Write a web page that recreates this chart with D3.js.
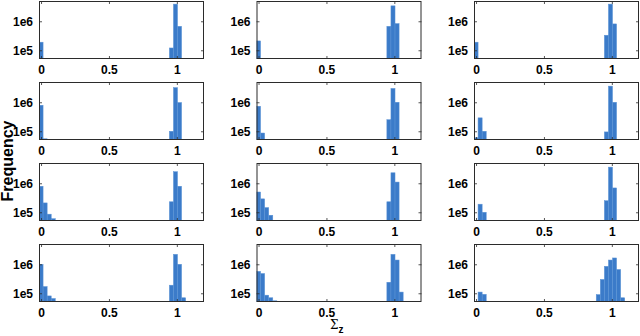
<!DOCTYPE html>
<html>
<head>
<meta charset="utf-8">
<script src="https://cdn.jsdelivr.net/npm/d3@7"></script>
<style>
  html, body { margin: 0; padding: 0; background: #fff; }
  svg { display: block; font-family: "Liberation Sans", Arial, sans-serif; }
</style>
</head>
<body>
<div id="chart"></div>
<script>
// histogram bin centres (bin width 0.03)
const binCenters = [0, 0.03, 0.06, 0.09, 0.12, 0.90, 0.93, 0.96, 0.99, 1.02, 1.05, 1.08];
const binWidth = 0.03;

// counts per panel, row by row, aligned with binCenters (0 = empty bin)
const panel1  = [1.9e5, 0, 0, 0, 0, 0, 0, 1.2e5, 3.9e6, 6.7e5, 0, 0];
const panel2  = [2.1e5, 0, 0, 0, 0, 0, 0, 6.7e5, 3.4e6, 8.3e5, 0, 0];
const panel3  = [1.9e5, 0, 0, 0, 0, 0, 0, 3.3e5, 3.9e6, 8.1e5, 0, 0];
const panel4  = [7.9e5, 5.5e4, 0, 0, 0, 0, 0, 1.0e5, 3.2e6, 9.8e5, 0, 0];
const panel5  = [7.3e5, 8.7e4, 0, 0, 0, 0, 0, 2.5e5, 3.0e6, 1.0e6, 0, 0];
const panel6  = [6.0e4, 2.9e5, 1.0e5, 0, 0, 0, 0, 9.5e4, 3.6e6, 1.0e6, 0, 0];
const panel7  = [7.9e5, 2.1e5, 8.6e4, 6.0e4, 5.2e4, 0, 0, 2.3e5, 2.5e6, 7.9e5, 0, 0];
const panel8  = [5.0e5, 2.9e5, 1.45e5, 7.9e4, 5.3e4, 0, 0, 2.3e5, 2.3e6, 1.1e6, 5.2e4, 0];
const panel9  = [0, 1.9e5, 1.0e5, 0, 0, 0, 0, 2.5e5, 3.6e6, 6.9e5, 0, 0];
const panel10 = [1.0e6, 1.7e5, 8.1e4, 6.6e4, 5.3e4, 0, 0, 1.9e5, 2.2e6, 1.0e6, 7.0e4, 0];
const panel11 = [5.7e5, 4.8e5, 8.6e4, 7.0e4, 5.5e4, 0, 0, 2.4e5, 2.2e6, 1.4e6, 1.1e5, 0];
const panel12 = [0, 1.1e5, 9.2e4, 0, 0, 9.0e4, 3.0e5, 8.5e5, 1.4e6, 1.65e6, 6.6e5, 7.0e4];
const panels = [panel1, panel2, panel3, panel4, panel5, panel6,
                panel7, panel8, panel9, panel10, panel11, panel12];

const xTicks = [0, 0.5, 1];
const xTickLabels = ["0", "0.5", "1"];
const yTicks = [1e5, 1e6];
const yTickLabels = ["1e5", "1e6"];

const width = 640, height = 336;
const nCols = 3;
const panelW = 165, panelH = 58;
const left0 = 39, colStep = 217.5;
const top0 = 1, rowStep = 81;

const barColor = "#3b7bc9";
const axisColor = "#2b2b2b";

const svg = d3.select("#chart")
    .append("svg")
    .attr("width", width)
    .attr("height", height);

const x = d3.scaleLinear().domain([-0.015, 1.2]).range([0, panelW]);
const y = d3.scaleLog().domain([5e4, 5e6]).range([panelH, 0]);

svg.append("defs").append("clipPath")
    .attr("id", "plot-clip")
    .append("rect")
    .attr("width", panelW)
    .attr("height", panelH);

panels.forEach((counts, i) => {
    const col = i % nCols, row = Math.floor(i / nCols);
    const g = svg.append("g")
        .attr("transform", `translate(${left0 + col * colStep},${top0 + row * rowStep})`);

    const bins = binCenters.map((c, k) => ({ c, v: counts[k] })).filter(d => d.v > 0);

    // bars
    g.append("g")
        .attr("clip-path", "url(#plot-clip)")
        .selectAll("rect")
        .data(bins)
        .join("rect")
        .attr("x", d => x(d.c - binWidth / 2))
        .attr("width", d => x(d.c + binWidth / 2) - x(d.c - binWidth / 2))
        .attr("y", d => y(d.v))
        .attr("height", d => panelH - y(d.v))
        .attr("fill", barColor)
        .attr("stroke", "#5b93d6")
        .attr("stroke-width", 0.5);

    // axes, ticks inward like matlab
    const bottom = g.append("g")
        .attr("transform", `translate(0,${panelH})`)
        .call(d3.axisBottom(x).tickValues(xTicks).tickFormat((d, k) => xTickLabels[k]).tickSizeInner(-3).tickSizeOuter(0).tickPadding(6));
    const top = g.append("g")
        .call(d3.axisTop(x).tickValues(xTicks).tickFormat("").tickSizeInner(-3).tickSizeOuter(0));
    const leftAx = g.append("g")
        .call(d3.axisLeft(y).tickValues(yTicks).tickFormat((d, k) => yTickLabels[k]).tickSizeInner(-3).tickSizeOuter(0).tickPadding(6));
    const rightAx = g.append("g")
        .attr("transform", `translate(${panelW},0)`)
        .call(d3.axisRight(y).tickValues(yTicks).tickFormat("").tickSizeInner(-3).tickSizeOuter(0));

    [bottom, top, leftAx, rightAx].forEach(a => {
        a.select(".domain").remove();
        a.selectAll("line").attr("stroke", axisColor).attr("stroke-width", 0.8);
        a.selectAll("text")
            .attr("fill", "#000")
            .style("font-size", "12px")
            .style("font-weight", "bold");
    });

    // box
    g.append("rect")
        .attr("x", 0.5).attr("y", 0.5)
        .attr("width", panelW - 1).attr("height", panelH - 1)
        .attr("fill", "none")
        .attr("stroke", axisColor)
        .attr("stroke-width", 1);
});

// shared labels
svg.append("text")
    .attr("transform", "translate(13,161) rotate(-90)")
    .attr("text-anchor", "middle")
    .style("font-size", "16px")
    .style("font-weight", "bold")
    .text("Frequency");

const xl = svg.append("text")
    .attr("x", 330)
    .attr("y", 329)
    .style("font-weight", "bold");
xl.append("tspan")
    .style("font-size", "12px")
    .style("font-weight", "normal")
    .style("font-family", "'DejaVu Serif', serif")
    .text("Σ");
xl.append("tspan")
    .attr("dy", 4)
    .style("font-size", "10px")
    .text("z");
</script>
</body>
</html>
